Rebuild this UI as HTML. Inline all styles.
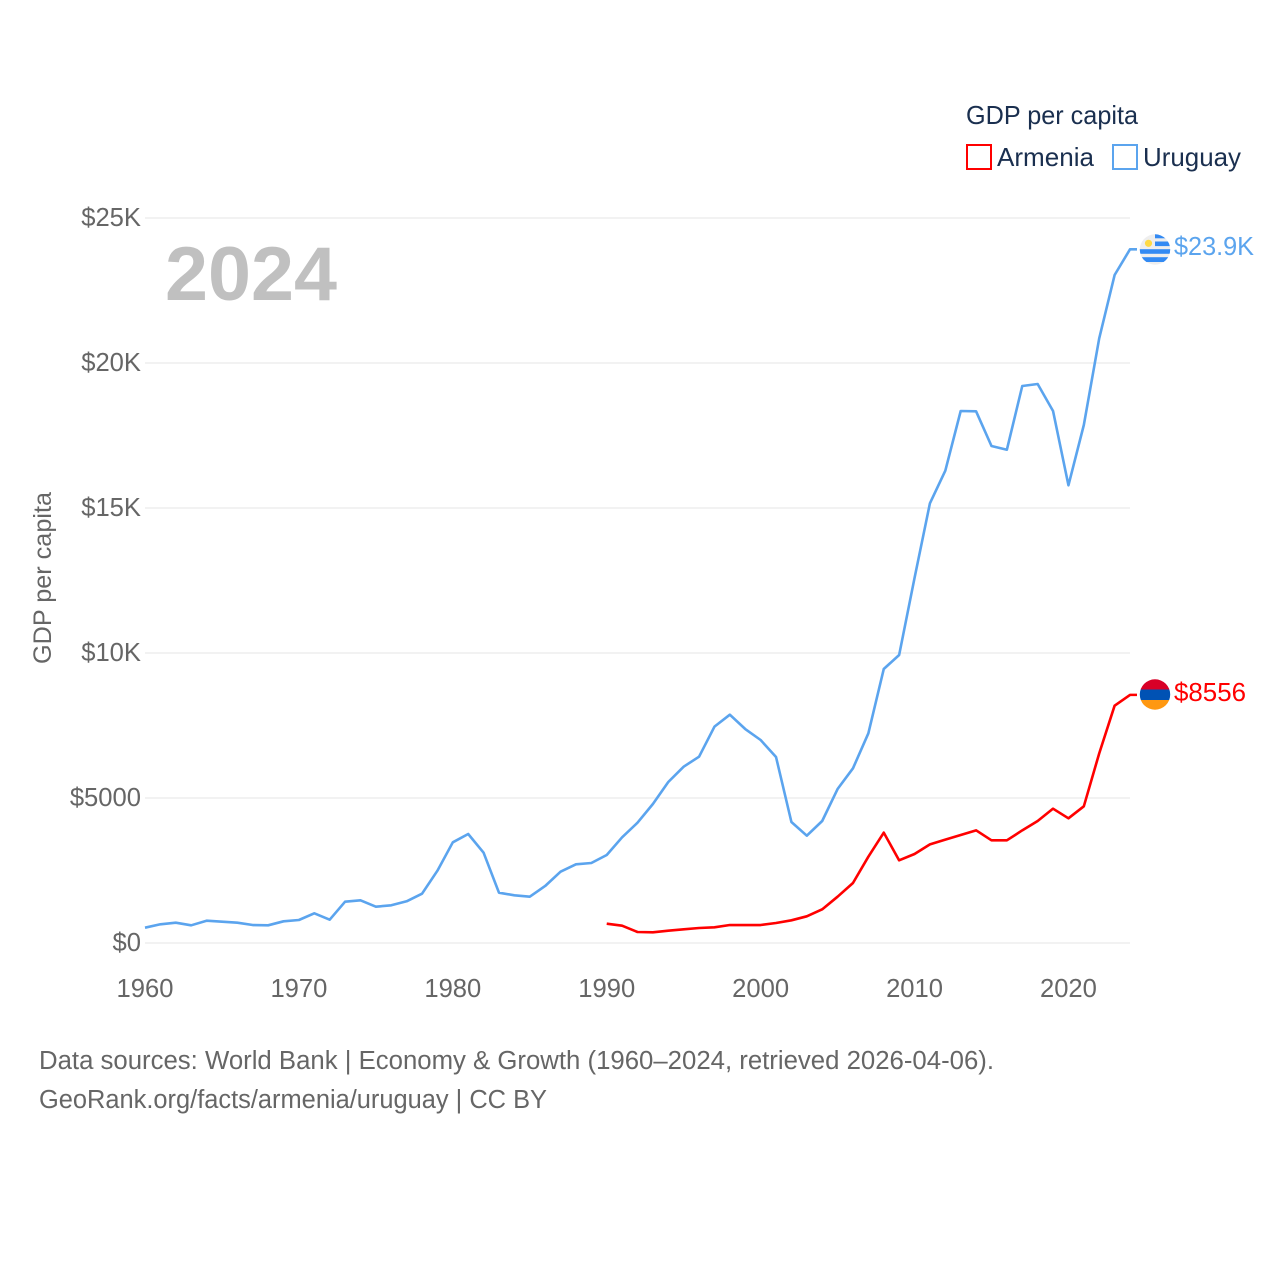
<!DOCTYPE html>
<html lang="en">
<head>
<meta charset="utf-8">
<title>GDP per capita: Armenia and Uruguay</title>
<style>
html,body{margin:0;padding:0;background:#fff}
svg{display:block}
text{font-family:"Liberation Sans",sans-serif}
</style>
</head>
<body>
<svg id="chart" width="1280" height="1280" viewBox="0 0 1280 1280" xmlns="http://www.w3.org/2000/svg">
  <rect x="0" y="0" width="1280" height="1280" fill="#ffffff"/>
  <g id="grid"></g>
  <g id="yticks"></g>
  <g id="xticks"></g>
  <text x="165" y="300" font-size="76" font-weight="700" fill="#c0c0c0" textLength="172" lengthAdjust="spacingAndGlyphs">2024</text>
  <text transform="translate(51,664) rotate(-90)" font-size="25" fill="#666666" textLength="172" lengthAdjust="spacingAndGlyphs">GDP per capita</text>
  <g id="series"></g>
  <g>
    <clipPath id="uy-clip"><circle cx="1155" cy="249.5" r="15.2"/></clipPath>
    <g clip-path="url(#uy-clip)">
      <rect x="1139" y="234" width="32" height="32" fill="#eeeeee"/>
      <rect x="1155" y="234" width="16" height="4.3" fill="#338af3"/>
      <rect x="1155" y="241.5" width="16" height="4.6" fill="#338af3"/>
      <rect x="1139" y="249.2" width="32" height="4.6" fill="#338af3"/>
      <rect x="1139" y="257.2" width="32" height="4.8" fill="#338af3"/>
    </g>
    <circle cx="1148.5" cy="243.3" r="3.6" fill="#ffda44"/>
  </g>
  <g>
    <clipPath id="am-clip"><circle cx="1155" cy="694.5" r="15.2"/></clipPath>
    <g clip-path="url(#am-clip)">
      <rect x="1139" y="679" width="32" height="10.5" fill="#d80027"/>
      <rect x="1139" y="689.5" width="32" height="10.5" fill="#0052b4"/>
      <rect x="1139" y="700" width="32" height="11" fill="#ff9811"/>
    </g>
  </g>
  <text x="1174" y="255" font-size="25.5" fill="#5ba4ee" textLength="80" lengthAdjust="spacingAndGlyphs">$23.9K</text>
  <text x="1174" y="701" font-size="25.5" fill="#ff0000" textLength="72" lengthAdjust="spacingAndGlyphs">$8556</text>
  <g>
    <text x="966" y="124" font-size="26" fill="#1a2f4f" textLength="172" lengthAdjust="spacingAndGlyphs">GDP per capita</text>
    <rect x="967" y="145" width="24" height="24" fill="none" stroke="#ff0000" stroke-width="2"/>
    <text x="997" y="166" font-size="26" fill="#1a2f4f" textLength="97" lengthAdjust="spacingAndGlyphs">Armenia</text>
    <rect x="1113" y="145" width="24" height="24" fill="none" stroke="#5ba4ee" stroke-width="2"/>
    <text x="1143" y="166" font-size="26" fill="#1a2f4f" textLength="98" lengthAdjust="spacingAndGlyphs">Uruguay</text>
  </g>
  <text x="39" y="1069" font-size="25.5" fill="#666666" textLength="955" lengthAdjust="spacingAndGlyphs">Data sources: World Bank | Economy &amp; Growth (1960–2024, retrieved 2026-04-06).</text>
  <text x="39" y="1108" font-size="25.5" fill="#666666" textLength="508" lengthAdjust="spacingAndGlyphs">GeoRank.org/facts/armenia/uruguay | CC BY</text>
</svg>
<script>
const uruguayStartYear = 1960;
const uruguayValues = [528,645,700,610,769,734,700,620,610,748,793,1024,803,1424,1472,1252,1300,1438,1700,2493,3472,3759,3114,1734,1645,1597,1966,2459,2713,2759,3034,3644,4149,4793,5552,6080,6425,7460,7873,7379,7000,6414,4172,3700,4207,5310,6023,7230,9448,9931,12586,15162,16287,18345,18334,17138,17010,19207,19276,18345,15783,17862,20852,23034,23920];
const armeniaStartYear = 1990;
const armeniaValues = [666,597,379,368,425,471,517,540,620,620,620,690,782,920,1161,1597,2069,2977,3805,2851,3069,3402,3563,3724,3885,3540,3540,3885,4207,4632,4299,4713,6540,8183,8556];
const yTickValues = [0,5000,10000,15000,20000,25000];
const yTickLabels = ['$0','$5000','$10K','$15K','$20K','$25K'];
const xTickValues = [1960,1970,1980,1990,2000,2010,2020];
const xTickLabels = ['1960','1970','1980','1990','2000','2010','2020'];

const SVG_NS = 'http://www.w3.org/2000/svg';
const plotLeft = 145, plotRight = 1130, plotBottom = 943, plotTop = 218;
const xDomainMin = 1960, xDomainMax = 2024, yDomainMax = 25000;
function xScale(year) {
  return plotLeft + (year - xDomainMin) / (xDomainMax - xDomainMin) * (plotRight - plotLeft);
}
function yScale(value) {
  return plotBottom - value / yDomainMax * (plotBottom - plotTop);
}
function make(tag, attrs, parent) {
  const el = document.createElementNS(SVG_NS, tag);
  Object.keys(attrs).forEach(function (k) { el.setAttribute(k, attrs[k]); });
  parent.appendChild(el);
  return el;
}
const gridGroup = document.getElementById('grid');
const yTickGroup = document.getElementById('yticks');
const xTickGroup = document.getElementById('xticks');
const seriesGroup = document.getElementById('series');

yTickValues.forEach(function (value, i) {
  const line = make('line', {x1: plotLeft, x2: plotRight, y1: yScale(value), y2: yScale(value), stroke: '#eeeeee', 'stroke-width': 1.6}, gridGroup);
  
  
  const label = make('text', {x: 141, y: yScale(value) + 8, 'text-anchor': 'end', 'font-size': 25.6, fill: '#666666'}, yTickGroup);
  label.textContent = yTickLabels[i];
  
  
});

xTickValues.forEach(function (year, i) {
  const label = make('text', {x: xScale(year), y: 997, 'text-anchor': 'middle', 'font-size': 25.6, fill: '#666666'}, xTickGroup);
  label.textContent = xTickLabels[i];
  
  
});

function drawSeries(values, startYear, color) {
  const pts = values.map(function (v, i) {
    return xScale(startYear + i).toFixed(2) + ',' + yScale(v).toFixed(2);
  });
  const lastY = yScale(values[values.length - 1]);
  pts.push((plotRight + 7) + ',' + lastY.toFixed(2));
  return make('polyline', {points: pts.join(' '), fill: 'none', stroke: color, 'stroke-width': 2.6, 'stroke-linejoin': 'round'}, seriesGroup);
}
const uruguayLine = drawSeries(uruguayValues, uruguayStartYear, '#5ba4ee');


const armeniaLine = drawSeries(armeniaValues, armeniaStartYear, '#ff0000');


</script>
</body>
</html>
